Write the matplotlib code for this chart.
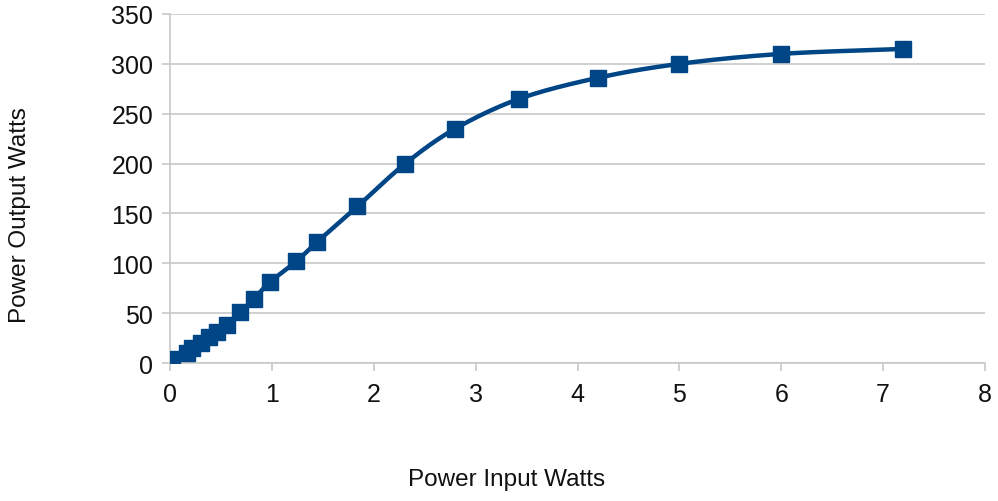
import numpy as np
import matplotlib
matplotlib.use("Agg")
import matplotlib.pyplot as plt

# data
power_in = [0.02, 0.17, 0.22, 0.30, 0.38, 0.46, 0.56, 0.69, 0.82, 0.98,
            1.24, 1.44, 1.84, 2.31, 2.80, 3.43, 4.20, 5.00, 6.00, 7.20]
power_out = [4, 10, 15, 20, 26, 31, 38, 51, 64, 81,
             102, 121, 157, 200, 235, 265, 286, 300, 310, 315]

x_ticks = list(range(0, 9))
y_ticks = list(range(0, 351, 50))

LINE = "#004586"
GRID = "#c8c8c8"


def catmull_rom(x, y, n=20):
    """平滑曲线（类似办公软件的平滑折线）"""
    x = np.asarray(x, float)
    y = np.asarray(y, float)
    px = np.concatenate([[2 * x[0] - x[1]], x, [2 * x[-1] - x[-2]]])
    py = np.concatenate([[2 * y[0] - y[1]], y, [2 * y[-1] - y[-2]]])
    xs, ys = [], []
    t = np.linspace(0, 1, n, endpoint=False)
    for i in range(1, len(px) - 2):
        for p, out in ((px[i - 1:i + 3], xs), (py[i - 1:i + 3], ys)):
            a, b, c, d = p
            out.append(0.5 * (2 * b + (-a + c) * t + (2 * a - 5 * b + 4 * c - d) * t ** 2
                              + (-a + 3 * b - 3 * c + d) * t ** 3))
    xs.append([x[-1]])
    ys.append([y[-1]])
    return np.concatenate(xs), np.concatenate(ys)


plt.rcParams["font.family"] = ["Liberation Sans", "DejaVu Sans"]

fig = plt.figure(figsize=(9.98, 5.02), dpi=100)
ax = fig.add_axes([170 / 998, 1 - 364 / 502, (985 - 170) / 998, (364 - 15) / 502])

sx, sy = catmull_rom(power_in, power_out)
ax.plot(sx, sy, color=LINE, lw=3.2, solid_capstyle="round", zorder=3)
ax.plot(power_in, power_out, ls="none", marker="s", ms=11.5, color=LINE, zorder=4)

ax.set_xlim(0, 8)
ax.set_ylim(0, 350)
ax.set_xticks(x_ticks)
ax.set_yticks(y_ticks)
ax.yaxis.grid(True, color=GRID, lw=1.2)
ax.set_axisbelow(True)
for s in ("top", "right"):
    ax.spines[s].set_visible(False)
for s in ("left", "bottom"):
    ax.spines[s].set_color(GRID)
    ax.spines[s].set_linewidth(1.2)
ax.tick_params(axis="both", colors=GRID, labelcolor="#111111", labelsize=18,
               length=6, width=1.2)
ax.tick_params(axis="x", pad=8)
ax.tick_params(axis="y", pad=6)

fig.text(507 / 998, 1 - 480 / 502, "Power Input Watts", ha="center", va="center",
         fontsize=17.5, color="#111111")
fig.text(20 / 998, 1 - 215 / 502, "Power Output Watts", ha="center", va="center",
         rotation=90, fontsize=17.5, color="#111111")

fig.savefig("out.png", dpi=100)
